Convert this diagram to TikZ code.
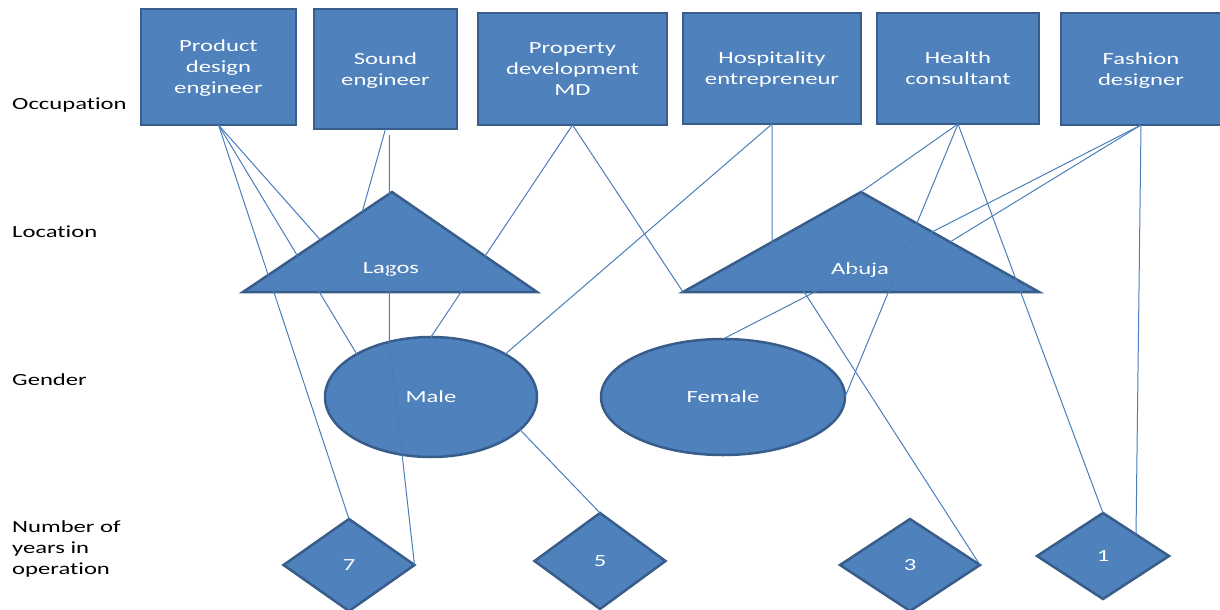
\documentclass[tikz,border=0pt]{standalone}
\usepackage{fontspec}
\setmainfont{Carlito}[FakeStretch=1.45,Ligatures=NoCommon]
\usetikzlibrary{shapes.geometric,calc}
\definecolor{shapefill}{HTML}{4F81BD}
\definecolor{shapeline}{HTML}{385D8A}
\definecolor{linkcol}{HTML}{4A7EBB}

\begin{document}
\begin{tikzpicture}[x=1pt,y=-1pt,
  every node/.style={font=\fontsize{17}{21}\selectfont},
  shapebase/.style={fill=shapefill,draw=shapeline,line width=2.5pt,text=white,inner sep=0pt,outer sep=0pt,text depth=0pt},
  job/.style={shapebase,rectangle,align=center},
  gender/.style={shapebase,ellipse},
  years/.style={shapebase,diamond},
  city/.style={fill=shapefill,draw=shapeline,line width=2.5pt,line join=miter},
  citylabel/.style={text=white,inner sep=0pt},
  rowlabel/.style={anchor=west,align=left,inner sep=0pt},
  link/.style={draw=linkcol,line width=1pt}]

\useasboundingbox (0,0) rectangle (1220,610);

% occupations
\node[job,minimum width=155pt,minimum height=116pt] (pde) at (218.5,67) {Product\\design\\engineer};
\node[job,minimum width=143pt,minimum height=120pt] (snd) at (385.5,69) {Sound\\engineer};
\node[job,minimum width=189pt,minimum height=112pt] (pdmd) at (572.5,69) {Property\\development\\MD};
\node[job,minimum width=178pt,minimum height=111pt] (hosp) at (772,68.5) {Hospitality\\entrepreneur};
\node[job,minimum width=162pt,minimum height=111pt] (health) at (958,68.5) {Health\\consultant};
\node[job,minimum width=160pt,minimum height=112pt] (fashion) at (1141,69) {Fashion\\designer};

% locations
\coordinate (lagosL) at (243,292);
\coordinate (lagosT) at (392,192);
\coordinate (lagosR) at (537,292);
\coordinate (abujaL) at (683,292);
\coordinate (abujaT) at (861,192);
\coordinate (abujaR) at (1039,292);
\filldraw[city] (lagosL) -- (lagosT) -- (lagosR) -- cycle;
\filldraw[city] (abujaL) -- (abujaT) -- (abujaR) -- cycle;
\node[citylabel] (lagos) at (391,270) {Lagos};
\node[citylabel] (abuja) at (860,270) {Abuja};

% genders
\node[gender,minimum width=212pt,minimum height=120pt] (male) at (431,397) {Male};
\node[gender,minimum width=244pt,minimum height=116pt] (female) at (723,397) {Female};

% years in operation
\node[years,minimum width=131pt,minimum height=92pt] (d7) at (349,565) {7};
\node[years,minimum width=131pt,minimum height=96pt] (d5) at (600,561) {5};
\node[years,minimum width=140pt,minimum height=92pt] (d3) at (910,565) {3};
\node[years,minimum width=132pt,minimum height=86pt] (d1) at (1103,556) {1};

% row captions
\node[rowlabel] (occ) at (12,105) {Occupation};
\node[rowlabel] (loc) at (12,232) {Location};
\node[rowlabel] (gen) at (12,380) {Gender};
\node[rowlabel] (yrs) at (12,549) {Number of\\years in\\operation};

% points on the triangle edges where links end or bend
\coordinate (lagosA) at ($(lagosL)!0.52!(lagosT)$);
\coordinate (lagosB) at ($(lagosL)!0.8!(lagosT)$);
\coordinate (abujaA) at ($(abujaL)!0.5!(abujaT)$);
\coordinate (abujaB) at ($(abujaT)!0.5!(abujaR)$);

% links
\draw[link] (pde.south) -- (lagosA);
\draw[link] (pde.south) -- (male.150);
\draw[link] (pde.south) -- (d7.north);
\draw[link] (snd.south) -- (lagosB);
\draw[link,shorten <=6pt] (male.127 |- snd.south) -- (male.127) -- (d7.east);
\draw[link] (pdmd.south) -- (male.north) -- (d5.north);
\draw[link] (pdmd.south) -- (abujaL);
\draw[link] (hosp.south) -- (abujaA) -- (d3.east);
\draw[link] (hosp.south) -- (male.30);
\draw[link] (health.south) -- (abujaT);
\draw[link] (health.south) -- (female.east);
\draw[link] (health.south) -- (d1.north);
\draw[link] (fashion.south) -- (female.north);
\draw[link] (fashion.south) -- (abujaB);
\draw[link] (fashion.south) -- (d1.north east);
\end{tikzpicture}
\end{document}
